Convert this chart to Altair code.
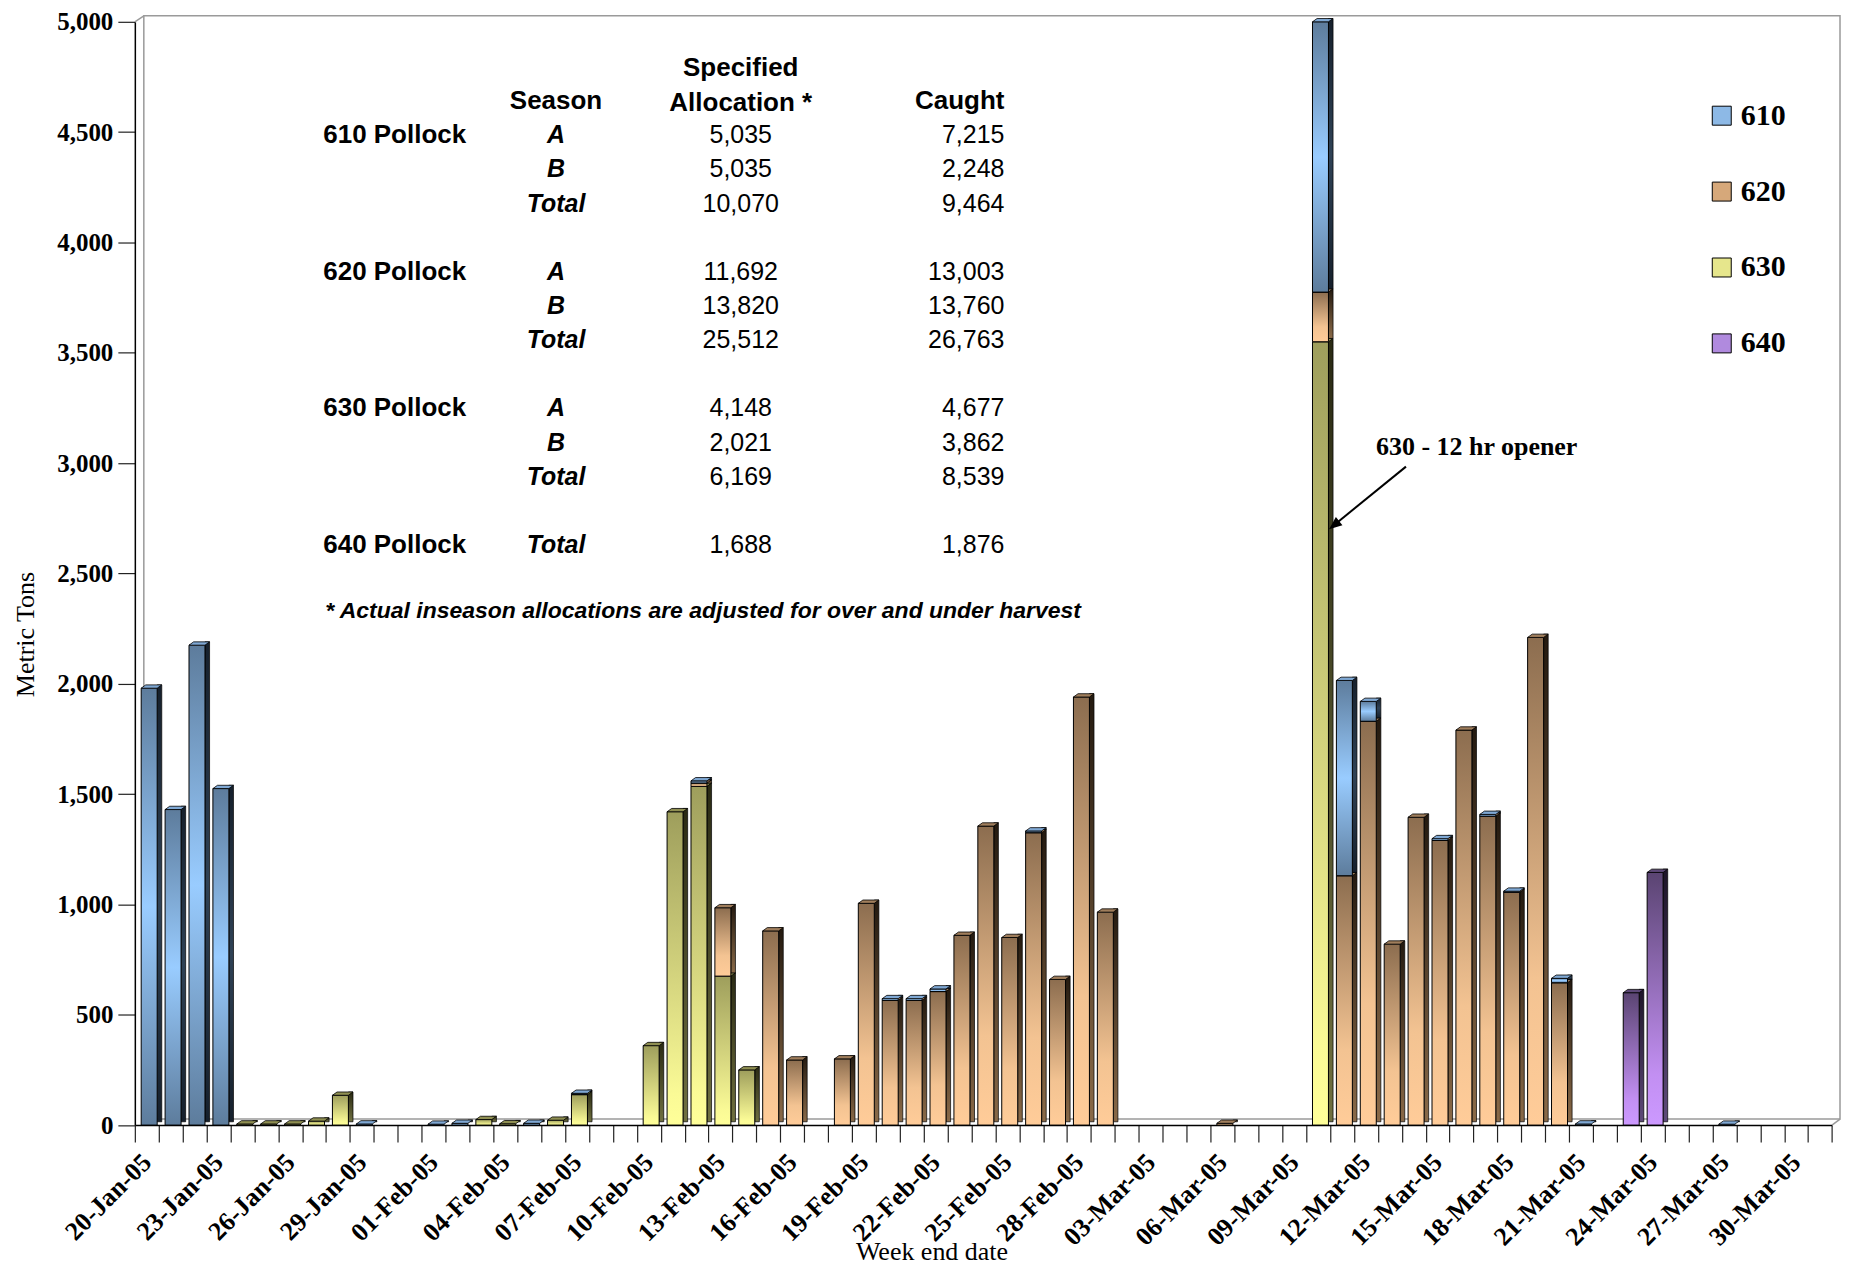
import json
import altair as alt
import pandas as pd

# ---------------- data ----------------
DATES = [d.strftime('%d-%b-%y') for d in pd.date_range('2005-01-20', '2005-03-31', freq='D')]

TICK_LABELS = ['20-Jan-05', '23-Jan-05', '26-Jan-05', '29-Jan-05', '01-Feb-05', '04-Feb-05',
               '07-Feb-05', '10-Feb-05', '13-Feb-05', '16-Feb-05', '19-Feb-05', '22-Feb-05',
               '25-Feb-05', '28-Feb-05', '03-Mar-05', '06-Mar-05', '09-Mar-05', '12-Mar-05',
               '15-Mar-05', '18-Mar-05', '21-Mar-05', '24-Mar-05', '27-Mar-05', '30-Mar-05']

SERIES = ['610', '620', '630', '640']

S610 = [1980, 1430, 2175, 1525, 0, 0, 0, 0, 0, 5,
        0, 0, 4, 8, 0, 0, 8, 0, 6, 0,
        0, 0, 0, 10, 0, 0, 0, 0, 0, 0,
        0, 8, 8, 12, 0, 0, 0, 8, 0, 0,
        0, 0, 0, 0, 0, 0, 0, 0, 0, 1225,
        885, 90, 0, 0, 8, 0, 8, 5, 0, 20,
        5, 0, 0, 0, 0, 0, 4, 0, 0, 0,
        0]
S620 = [0, 0, 0, 0, 0, 0, 0, 0, 0, 0,
        0, 0, 0, 0, 0, 0, 0, 0, 0, 0,
        0, 0, 0, 15, 310, 0, 880, 295, 0, 300,
        1005, 565, 565, 605, 860, 1355, 850, 1325, 660, 1940,
        965, 0, 0, 0, 0, 8, 0, 0, 0, 225,
        1130, 1830, 820, 1395, 1290, 1790, 1400, 1055, 2210, 645,
        0, 0, 0, 0, 0, 0, 0, 0, 0, 0,
        0]
S630 = [0, 0, 0, 0, 5, 5, 5, 18, 135, 0,
        0, 0, 0, 0, 25, 6, 0, 22, 138, 0,
        0, 360, 1420, 1535, 675, 250, 0, 0, 0, 0,
        0, 0, 0, 0, 0, 0, 0, 0, 0, 0,
        0, 0, 0, 0, 0, 0, 0, 0, 0, 3550,
        0, 0, 0, 0, 0, 0, 0, 0, 0, 0,
        0, 0, 0, 0, 0, 0, 0, 0, 0, 0,
        0]
S640 = [0, 0, 0, 0, 0, 0, 0, 0, 0, 0,
        0, 0, 0, 0, 0, 0, 0, 0, 0, 0,
        0, 0, 0, 0, 0, 0, 0, 0, 0, 0,
        0, 0, 0, 0, 0, 0, 0, 0, 0, 0,
        0, 0, 0, 0, 0, 0, 0, 0, 0, 0,
        0, 0, 0, 0, 0, 0, 0, 0, 0, 0,
        0, 0, 600, 1145, 0, 0, 0, 0, 0, 0,
        0]

# stacking order, bottom -> top
STACK_ORDER = ['630', '620', '610', '640']

TABLE_GROUPS = ['610 Pollock', '620 Pollock', '630 Pollock', '640 Pollock']
TABLE_SEASONS = [['A', 'B', 'Total'], ['A', 'B', 'Total'], ['A', 'B', 'Total'], ['Total']]
TABLE_ALLOC = [['5,035', '5,035', '10,070'], ['11,692', '13,820', '25,512'],
               ['4,148', '2,021', '6,169'], ['1,688']]
TABLE_CAUGHT = [['7,215', '2,248', '9,464'], ['13,003', '13,760', '26,763'],
                ['4,677', '3,862', '8,539'], ['1,876']]
FOOTNOTE = '* Actual inseason allocations are adjusted for over and under harvest'

ANNOT_TEXT = '630 - 12 hr opener'
ANNOT_DATE = '10-Mar-05'

# ---------------- build tables ----------------
vals = {'610': S610, '620': S620, '630': S630, '640': S640}
rows = []
for s in SERIES:
    for d, v in zip(DATES, vals[s]):
        if v > 0:
            rows.append({'date': d, 'series': s, 'value': v, 'order': STACK_ORDER.index(s)})
df = pd.DataFrame(rows)

# ---------------- layout ----------------
TOP = 13          # plot top inside the svg
W = 1699.4
H = 1125.7 - 8 - TOP
SERIF = 'Liberation Serif'
SANS = 'Liberation Sans'
DY = 15 - (8 + TOP)   # shift for items measured from y=15 in the page

ROW0, ROWSTEP = 119.6 + DY, 34.2
trows = []
k = 0
for g, grp in enumerate(TABLE_GROUPS):
    for j, seas in enumerate(TABLE_SEASONS[g]):
        trows.append({'group': grp if j == 0 else '', 'season': seas,
                      'alloc': TABLE_ALLOC[g][j], 'caught': TABLE_CAUGHT[g][j],
                      'py': ROW0 + ROWSTEP * k})
        k += 1
    k += 1
table_df = pd.DataFrame(trows)
ONE = pd.DataFrame({'k': [0]})


def vgrad(stops):
    return alt.Gradient(gradient='linear',
                        stops=[alt.GradientStop(color=c, offset=o) for o, c in stops],
                        x1=0, x2=0, y1=0, y2=1)


STYLE = {
    '610': dict(front=[(0, '#5D7C9C'), (0.5, '#99CCFF'), (1, '#5D7C9C')],
                side=[(0, '#16202c'), (0.5, '#2f4256'), (1, '#16202c')], top='#7fa8d4'),
    '620': dict(front=[(0, '#8C6D4F'), (0.7, '#F3C392'), (1, '#FFCC99')],
                side=[(0, '#241a10'), (1, '#8a6a48')], top='#a07e5c'),
    '630': dict(front=[(0, '#9E9E5C'), (0.9, '#FAFA96'), (1, '#FFFF99')],
                side=[(0, '#2a2a14'), (1, '#707040')], top='#8f8f52'),
    '640': dict(front=[(0, '#5A4472'), (0.8, '#C28FF2'), (1, '#CC99FF')],
                side=[(0, '#1d1428'), (1, '#5e4a7a')], top='#5d4878'),
}
LEGEND_COLORS = ['#8DB9E6', '#D6A87A', '#E6E68C', '#B08ADE']

TOP_PATH = 'M -1 0 L 0.553 0 L 1 -0.32 L -0.553 -0.32 Z'
TOP_SIZE = 424

xscale = alt.Scale(domain=DATES, paddingInner=0, paddingOuter=0)
yscale = alt.Scale(domain=[0, 5000], nice=False)

label_expr = "indexof(" + json.dumps(TICK_LABELS) + ", datum.value) >= 0 ? datum.value : ''"

x_axis = alt.Axis(title='Week end date', labelExpr=label_expr, labelAngle=315, labelAlign='right',
                  labelBaseline='middle', labelFont=SERIF, labelFontWeight='bold', labelFontSize=26,
                  labelColor='black', labelPadding=16, labelOverlap=False, labelBound=False,
                  tickBand='extent', tickColor='#222', tickSize=17, tickWidth=1.2,
                  domainColor='black', domainWidth=1.5, grid=False,
                  titleFont=SERIF, titleFontWeight='normal', titleFontSize=26, titleColor='black',
                  titleX=797.7, titleY=127, titleBaseline='middle', titleAlign='center')
y_axis = alt.Axis(title='Metric Tons', values=list(range(0, 5001, 500)), format=',d',
                  labelFont=SERIF, labelFontWeight='bold', labelFontSize=25, labelColor='black',
                  labelPadding=5, tickColor='#222', tickSize=17, tickWidth=1.2,
                  domainColor='black', domainWidth=1.5, grid=False,
                  titleFont=SERIF, titleFontWeight='normal', titleFontSize=26, titleColor='black',
                  titleAngle=270, titleX=-109, titleY=619 + DY, titleAlign='center',
                  titleBaseline='middle')


def X():
    return alt.X('date:N', scale=xscale, axis=x_axis)


def Y(field):
    return alt.Y(field, scale=yscale, axis=y_axis)


base = alt.Chart(df).transform_stack(
    stack='value', groupby=['date'], as_=['y0', 'y1'],
    sort=[alt.SortField(field='order', order='ascending')])

layers = []

# back wall of the 3-D box
layers.append(alt.Chart(ONE).mark_rect(filled=False, stroke='#9a9a9a', strokeWidth=1.5).encode(
    x=alt.value(9), x2=alt.value(W + 8), y=alt.value(-6), y2=alt.value(H - 6)))
layers.append(alt.Chart(ONE).mark_rule(color='#9a9a9a', strokeWidth=1.5).encode(
    x=alt.value(0), x2=alt.value(9), y=alt.value(0), y2=alt.value(-6)))
layers.append(alt.Chart(ONE).mark_rule(color='#9a9a9a', strokeWidth=1.5).encode(
    x=alt.value(W), x2=alt.value(W + 8), y=alt.value(H), y2=alt.value(H - 6)))

for s in STACK_ORDER:
    st = STYLE[s]
    sub = base.transform_filter(alt.datum.series == s)
    # side face
    layers.append(sub.mark_bar(fill=vgrad(st['side']), stroke='black', strokeWidth=0.7,
                               width=4.6, xOffset=12.7, yOffset=-3.3, y2Offset=-3.3).encode(
        x=X(), y=Y('y0:Q'), y2='y1:Q'))
    # front face
    layers.append(sub.mark_bar(fill=vgrad(st['front']), stroke='black', strokeWidth=1,
                               width=16, xOffset=2.4).encode(x=X(), y=Y('y0:Q'), y2='y1:Q'))
    # top face
    layers.append(sub.mark_point(shape=TOP_PATH, size=TOP_SIZE, filled=True, fill=st['top'],
                                 stroke='black', strokeWidth=0.8, opacity=1, xOffset=4.7).encode(
        x=X(), y=Y('y1:Q')))

# legend (invisible points carry the colour scale)
layers.append(base.mark_point(opacity=0, filled=True).encode(
    x=X(), y=Y('y1:Q'),
    color=alt.Color('series:N', scale=alt.Scale(domain=SERIES, range=LEGEND_COLORS),
                    legend=alt.Legend(orient='none', legendX=1574, legendY=85 + DY, title=None,
                                      symbolType='square', symbolSize=361,
                                      symbolStrokeColor='black', symbolStrokeWidth=1,
                                      symbolOpacity=1, labelFont=SERIF, labelFontWeight='bold',
                                      labelFontSize=30, labelColor='black', rowPadding=46,
                                      labelOffset=4, padding=0))))

# annotation
layers.append(alt.Chart(ONE).mark_text(text=ANNOT_TEXT, align='left', baseline='middle', dx=58,
                                       font=SERIF, fontSize=26, fontWeight='bold', color='black').encode(
    x=alt.XDatum(ANNOT_DATE, type='nominal', scale=xscale, axis=x_axis),
    y=alt.YDatum(3074, type='quantitative', scale=yscale, axis=y_axis)))
layers.append(alt.Chart(ONE).mark_rule(color='black', strokeWidth=2, xOffset=88, x2Offset=14).encode(
    x=alt.XDatum(ANNOT_DATE, type='nominal', scale=xscale, axis=x_axis), x2=alt.X2Datum(ANNOT_DATE),
    y=alt.YDatum(2984, type='quantitative', scale=yscale, axis=y_axis), y2=alt.Y2Datum(2712)))
layers.append(alt.Chart(ONE).mark_point(shape='M 0 0 L 0.4 1 L -0.4 1 Z', size=676, angle=231,
                                        filled=True, color='black', opacity=1, xOffset=11).encode(
    x=alt.XDatum(ANNOT_DATE, type='nominal', scale=xscale, axis=x_axis),
    y=alt.YDatum(2700, type='quantitative', scale=yscale, axis=y_axis)))


# table
def label(txt, x, y, align, size, weight='bold', style='normal', font=SANS):
    return alt.Chart(ONE).mark_text(text=txt, align=align, baseline='middle', font=font,
                                    fontSize=size, fontWeight=weight, fontStyle=style,
                                    color='black').encode(x=alt.value(x), y=alt.value(y + DY))


layers.append(label('Specified', 606.7, 52, 'center', 26))
layers.append(label('Season', 421.7, 85.5, 'center', 26))
layers.append(label('Allocation *', 606.7, 87.5, 'center', 26))
layers.append(label('Caught', 870.7, 85.5, 'right', 26))
layers.append(label(FOOTNOTE, 190.7, 595.6, 'left', 23, style='italic'))

ty = alt.Y('py:Q', scale=None)
layers.append(alt.Chart(table_df).mark_text(align='left', baseline='middle', font=SANS, fontSize=26,
                                            fontWeight='bold', color='black').encode(
    x=alt.value(188.7), y=ty, text='group:N'))
layers.append(alt.Chart(table_df).mark_text(align='center', baseline='middle', font=SANS, fontSize=25,
                                            fontWeight='bold', fontStyle='italic', color='black').encode(
    x=alt.value(421.7), y=ty, text='season:N'))
layers.append(alt.Chart(table_df).mark_text(align='center', baseline='middle', font=SANS, fontSize=25,
                                            color='black').encode(
    x=alt.value(606.7), y=ty, text='alloc:N'))
layers.append(alt.Chart(table_df).mark_text(align='right', baseline='middle', font=SANS, fontSize=25,
                                            color='black').encode(
    x=alt.value(870.7), y=ty, text='caught:N'))

chart = alt.layer(*layers).properties(
    width=W, height=H,
    padding={'left': 127, 'top': TOP, 'right': 12, 'bottom': 1277 - 8 - TOP - H - 1},
    autosize=alt.AutoSizeParams(type='none'),
    background='white',
).configure_view(stroke=None)

chart.save("out.html", embed_options={"renderer": "svg", "actions": False})
